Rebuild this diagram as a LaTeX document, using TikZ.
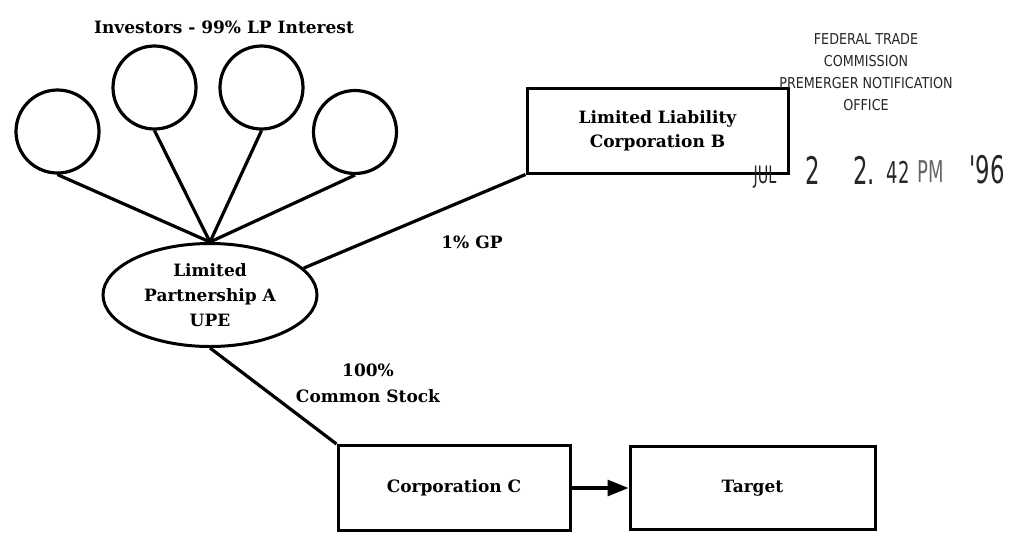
\documentclass[tikz,border=0pt]{standalone}
\usepackage{fontspec}
\setmainfont{DejaVu Serif}
\newfontfamily\stampfont[FakeStretch=0.85]{DejaVu Sans}
\newfontfamily\datefont[FakeStretch=0.6]{DejaVu Sans}
\usetikzlibrary{shapes.geometric,arrows.meta}
\begin{document}
\begin{tikzpicture}[x=1pt,y=-1pt,
  conn/.style={line width=3.2pt},
  investor/.style={circle,draw,line width=3.2pt,minimum size=83pt,inner sep=0pt},
  entity/.style={rectangle,draw,line width=3pt,inner sep=0pt,align=center,font=\fontsize{17}{24}\selectfont\bfseries},
  lbl/.style={align=center,inner sep=0pt,font=\fontsize{17}{26}\selectfont\bfseries},
  stamp/.style={inner sep=0pt,text=black!85,font=\stampfont\fontsize{15}{22}\selectfont},
  datestamp/.style={inner sep=0pt,text=black!85,font=\datefont\fontsize{38}{38}\selectfont}]
\useasboundingbox (0,0) rectangle (1013,539);
% title
\node[lbl] (title) at (224,27) {Investors - 99\% LP Interest};
% investors
\node[investor] (i1) at (57.5,131.5) {};
\node[investor] (i2) at (154.5,87.5) {};
\node[investor] (i3) at (261.5,87.5) {};
\node[investor] (i4) at (355,132) {};
% limited partnership
\node[ellipse,draw,line width=3pt,minimum width=214pt,minimum height=103pt,inner sep=0pt,
  align=center,font=\fontsize{17}{25}\selectfont\bfseries] (lp) at (210,295)
  {Limited\\Partnership A\\UPE};
% boxes
\node[entity,minimum width=261pt,minimum height=85pt] (b) at (657.5,130.5)
  {Limited Liability\\Corporation B};
\node[entity,minimum width=232pt,minimum height=85pt] (c) at (454,488) {Corporation C};
\node[entity,minimum width=245pt,minimum height=83pt] (t) at (752.5,488) {Target};
% connectors
\draw[conn] (i1.south) -- (lp.north);
\draw[conn] (i2.south) -- (lp.north);
\draw[conn] (i3.south) -- (lp.north);
\draw[conn] (i4.south) -- (lp.north);
\draw[conn] (lp.16) -- (b.south west);
\draw[conn] (lp.south) -- (c.north west);
\draw[conn,-{Triangle[length=21pt,width=16pt]}] (c.east) -- (t.west);
% labels
\node[lbl] (gp) at (472,242) {1\% GP};
\node[lbl] (cs) at (368,383) {100\%\\Common Stock};
% stamp
\node[stamp,align=center] (st) at (866,72)
  {FEDERAL TRADE\\COMMISSION\\PREMERGER NOTIFICATION\\OFFICE};
\node[inner sep=0pt,text=black!85,font=\datefont\fontsize{24}{24}\selectfont] (jul) at (765,177) {JUL};
\node[datestamp] (d1) at (813,170) {2};
\node[datestamp] (d2) at (864,170) {2.};
\node[inner sep=0pt,text=black!85,font=\datefont\fontsize{30}{30}\selectfont] (d3) at (898,172) {42};
\node[inner sep=0pt,text=black!60,font=\datefont\fontsize{30}{30}\selectfont] (d4) at (931,172) {PM};
\node[datestamp] (d5) at (987,170) {'96};
\end{tikzpicture}
\end{document}
